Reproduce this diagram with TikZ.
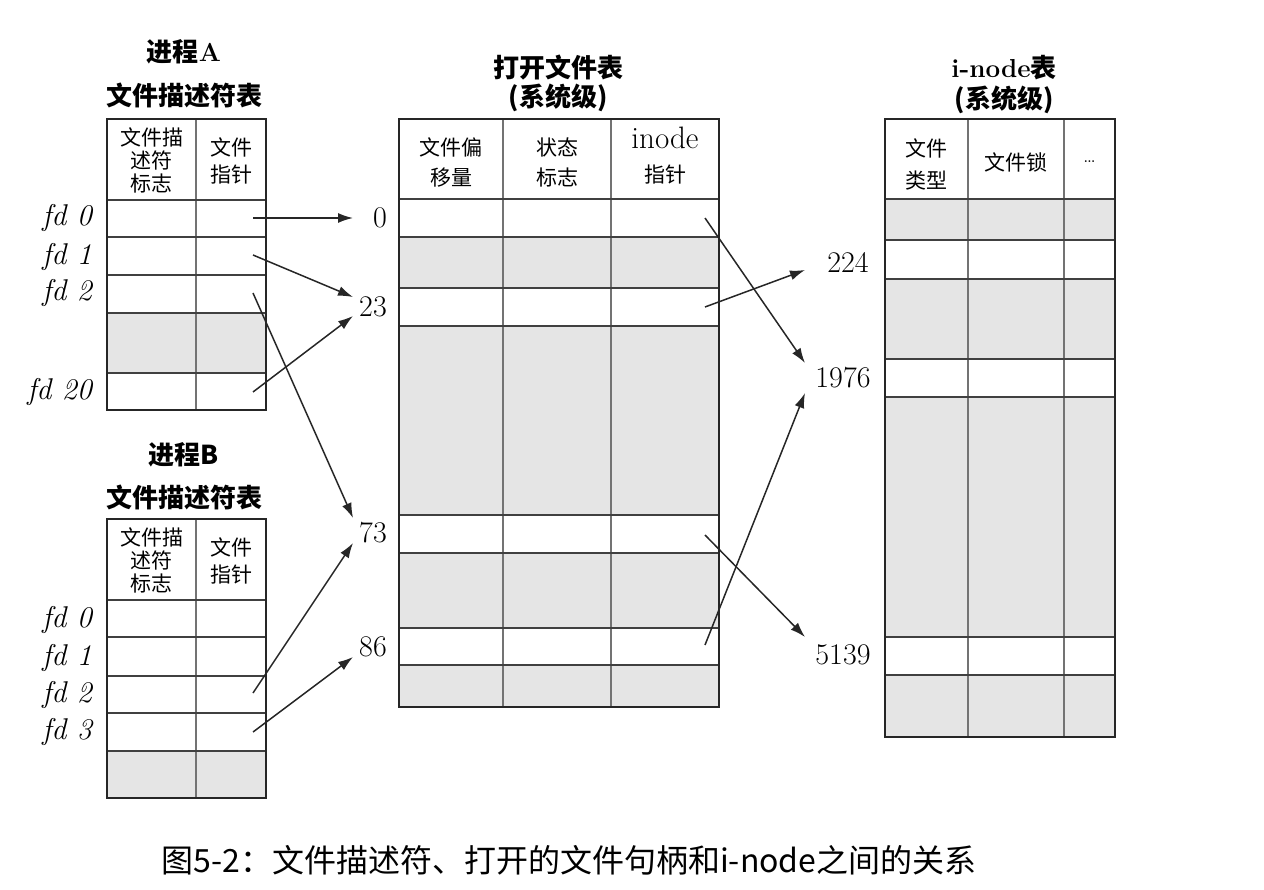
\documentclass[tikz,border=0pt]{standalone}
\usepackage{fontspec}
\newfontfamily\cjk{Noto Sans CJK SC}
\usetikzlibrary{arrows.meta}
\begin{document}
\begin{tikzpicture}[x=1pt,y=-1pt,
  outer/.style={line width=2.8pt, draw=black!85},
  rowline/.style={line width=1.9pt, draw=black!75},
  colline/.style={line width=1.6pt, draw=black!55},
  shade/.style={fill=black!10},
  ptr/.style={line width=1.5pt, draw=black!85, -{Latex[length=15pt,width=10pt]}},
  num/.style={font=\fontsize{30}{32}\selectfont, inner sep=0pt},
  fdl/.style={font=\fontsize{30}{32}\selectfont\itshape, anchor=east, inner sep=0pt},
  hdr/.style={font=\cjk\fontsize{21}{23}\selectfont, align=center, inner sep=0pt},
  ttl/.style={font=\cjk\bfseries\fontsize{26}{30}\selectfont, inner sep=0pt},
]
\useasboundingbox (0,0) rectangle (1264,890);

% ---------- Table A ----------
\fill[shade] (107,313) rectangle (266,373);
\draw[colline] (196,119) -- (196,410);
\foreach \y in {200,237,275,313,373} \draw[rowline] (107,\y) -- (266,\y);
\draw[outer] (107,119) rectangle (266,410);

% ---------- Table B ----------
\fill[shade] (107,751) rectangle (266,798);
\draw[colline] (196,519) -- (196,798);
\foreach \y in {600,637,676,713,751} \draw[rowline] (107,\y) -- (266,\y);
\draw[outer] (107,519) rectangle (266,798);

% ---------- Open file table ----------
\fill[shade] (399,237) rectangle (719,288);
\fill[shade] (399,326) rectangle (719,515);
\fill[shade] (399,553) rectangle (719,628);
\fill[shade] (399,665) rectangle (719,707);
\foreach \x in {503,611} \draw[colline] (\x,119) -- (\x,707);
\foreach \y in {199,237,288,326,515,553,628,665} \draw[rowline] (399,\y) -- (719,\y);
\draw[outer] (399,119) rectangle (719,707);

% ---------- i-node table ----------
\fill[shade] (885,199) rectangle (1115,240);
\fill[shade] (885,279) rectangle (1115,359);
\fill[shade] (885,397) rectangle (1115,637);
\fill[shade] (885,675) rectangle (1115,737);
\foreach \x in {968,1064} \draw[colline] (\x,119) -- (\x,737);
\foreach \y in {199,240,279,359,397,637,675} \draw[rowline] (885,\y) -- (1115,\y);
\draw[outer] (885,119) rectangle (1115,737);

% ---------- titles ----------
\node[ttl] (ta1) at (184,52) {进程{\rmfamily A}};
\node[ttl] (ta2) at (184,95) {文件描述符表};
\node[ttl] (tb1) at (184,455) {进程B};
\node[ttl] (tb2) at (184,497) {文件描述符表};
\node[ttl] (tm1) at (558,68) {打开文件表};
\node[ttl] (tm2) at (558,98) {(系统级)};
\node[ttl] (ti1) at (1004,68) {{\rmfamily i-node}表};
\node[ttl] (ti2) at (1004,100) {(系统级)};

% ---------- headers ----------
\node[hdr] (ha1) at (151.5,160) {文件描\\述符\\标志};
\node[hdr] (ha2) at (231,161) {文件\\[4pt]指针};
\node[hdr] (hb1) at (151.5,560) {文件描\\述符\\标志};
\node[hdr] (hb2) at (231,561) {文件\\[4pt]指针};
\node[hdr] (hm1) at (451,162) {文件偏\\[7pt]移量};
\node[hdr] (hm2) at (557,162) {状态\\[7pt]标志};
\node[font=\fontsize{31}{33}\selectfont, inner sep=0pt] (hm3) at (665,138) {inode};
\node[hdr] (hm4) at (665,175) {指针};
\node[hdr] (hi1) at (926.5,164) {文件\\[9pt]类型};
\node[hdr] (hi2) at (1016,162) {文件锁};
\node[font=\fontsize{22}{24}\selectfont, inner sep=0pt] (hi3) at (1089.5,162) {\ldots};

% ---------- fd labels ----------
\node[fdl] (fa0) at (92,218) {fd 0};
\node[fdl] (fa1) at (92,257) {fd 1};
\node[fdl] (fa2) at (92,293) {fd 2};
\node[fdl] (fa20) at (92,392) {fd 20};
\node[fdl] (fb0) at (92,620) {fd 0};
\node[fdl] (fb1) at (92,658) {fd 1};
\node[fdl] (fb2) at (92,695) {fd 2};
\node[fdl] (fb3) at (92,732) {fd 3};

% ---------- number labels ----------
\node[num] (n0) at (380,218) {0};
\node[num] (n23) at (373,307) {23};
\node[num] (n73) at (373,533) {73};
\node[num] (n86) at (373,647) {86};
\node[num] (n224) at (848,262) {224};
\node[num] (n1976) at (843,378) {1976};
\node[num] (n5139) at (843,655) {5139};

% ---------- arrow anchors ----------
\coordinate (sa0) at (253,218);
\coordinate (sa1) at (253,255);
\coordinate (sa2) at (253,293);
\coordinate (sa20) at (253,392);
\coordinate (sb2) at (253,693);
\coordinate (sb3) at (253,732);
\coordinate (e0) at (353,218);
\coordinate (e23a) at (353,297);
\coordinate (e23b) at (353,316);
\coordinate (e73a) at (353,518);
\coordinate (e73b) at (353,543);
\coordinate (e86) at (353,657);
\coordinate (sm0) at (705,218);
\coordinate (sm23) at (705,307);
\coordinate (sm73) at (705,535);
\coordinate (sm86) at (705,645);
\coordinate (e224) at (805,270);
\coordinate (e1976a) at (805,363);
\coordinate (e1976b) at (805,393);
\coordinate (e5139) at (805,637);

\draw[ptr] (sa0) -- (e0);
\draw[ptr] (sa1) -- (e23a);
\draw[ptr] (sa2) -- (e73a);
\draw[ptr] (sa20) -- (e23b);
\draw[ptr] (sb2) -- (e73b);
\draw[ptr] (sb3) -- (e86);
\draw[ptr] (sm0) -- (e1976a);
\draw[ptr] (sm23) -- (e224);
\draw[ptr] (sm73) -- (e5139);
\draw[ptr] (sm86) -- (e1976b);

% ---------- caption ----------
\node[font=\cjk\fontsize{32}{35}\selectfont, inner sep=0pt] (cap) at (569,860) {图5-2：文件描述符、打开的文件句柄和i-node之间的关系};
\end{tikzpicture}
\end{document}
